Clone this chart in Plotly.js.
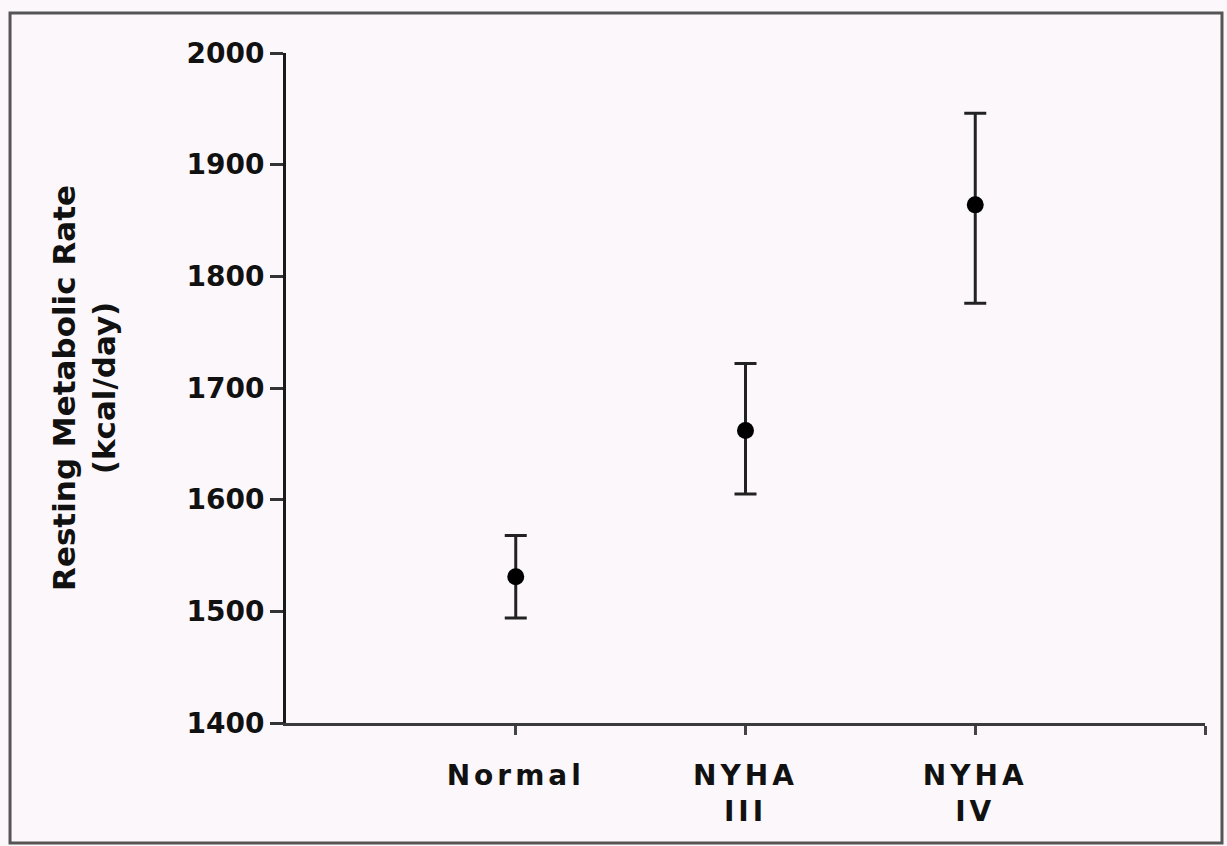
<!DOCTYPE html>
<html>
<head>
<meta charset="utf-8">
<script src="https://cdn.plot.ly/plotly-3.0.1.min.js"></script>
<style>
  html, body { margin: 0; padding: 0; background: #fcf7fb; }
  #chart { width: 1227px; height: 846px; }
  .xtick text { letter-spacing: 4px; }
</style>
</head>
<body>
<div id="chart"></div>
<script>
// Category positions and labels
const groupPos = [1, 2, 3];
const groupLabels = ['Normal', 'NYHA<br>III', 'NYHA<br>IV'];

// Resting metabolic rate (kcal/day): mean and error-bar ends
const rmrMean  = [1531, 1662, 1864];
const rmrUpper = [1568, 1722, 1946];
const rmrLower = [1494, 1605, 1776];

// Axis ticks
const xTickVals = [1, 2, 3, 4];
const xTickText = ['Normal', 'NYHA<br>III', 'NYHA<br>IV', ''];
const yTickVals = [1400, 1500, 1600, 1700, 1800, 1900, 2000];

const errPlus  = rmrUpper.map((u, i) => u - rmrMean[i]);
const errMinus = rmrMean.map((m, i) => m - rmrLower[i]);

const ink = '#111111';
const bg = '#fcf7fb';
const fontFam = '"DejaVu Sans", "Liberation Sans", Arial, sans-serif';

const trace = {
  type: 'scatter',
  mode: 'markers',
  x: groupPos,
  y: rmrMean,
  text: groupLabels,
  marker: { color: '#000', size: 17, line: { width: 0 } },
  error_y: {
    type: 'data',
    symmetric: false,
    array: errPlus,
    arrayminus: errMinus,
    color: '#222',
    thickness: 3,
    width: 11
  },
  hoverinfo: 'skip',
  showlegend: false
};

const layout = {
  width: 1227,
  height: 846,
  margin: { l: 286, r: 22, t: 53, b: 123 },
  paper_bgcolor: bg,
  plot_bgcolor: bg,
  font: { family: fontFam, color: ink, weight: 'bold' },
  showlegend: false,
  xaxis: {
    range: [0, 4],
    tickvals: xTickVals,
    ticktext: xTickText,
    showgrid: false,
    zeroline: false,
    showline: true,
    linecolor: '#3a3a3a',
    linewidth: 3,
    ticks: 'outside',
    ticklen: 9,
    tickwidth: 3,
    tickcolor: '#444',
    ticklabelstandoff: 16,
    tickfont: { family: fontFam, size: 28, color: ink, weight: 'bold' },
    fixedrange: true
  },
  yaxis: {
    range: [1400, 2000],
    tickvals: yTickVals,
    showgrid: false,
    zeroline: false,
    showline: true,
    linecolor: '#1a1a1a',
    linewidth: 3,
    ticks: 'outside',
    ticklen: 13,
    tickwidth: 3,
    tickcolor: '#333',
    ticklabelstandoff: 0,
    tickfont: { family: fontFam, size: 28, color: ink, weight: 'bold' },
    title: {
      text: 'Resting Metabolic Rate<br>(kcal/day)',
      font: { family: fontFam, size: 31, color: ink, weight: 'bold' },
      standoff: 62
    },
    automargin: false,
    fixedrange: true
  },
  shapes: [
    {
      type: 'rect', xref: 'paper', yref: 'paper',
      x0: -0.3003, x1: 1.0185, y0: -0.179, y1: 1.0597,
      line: { color: '#555', width: 3 },
      fillcolor: 'rgba(0,0,0,0)',
      layer: 'below'
    }
  ]
};

Plotly.newPlot('chart', [trace], layout, { displayModeBar: false, staticPlot: true });
</script>
</body>
</html>
